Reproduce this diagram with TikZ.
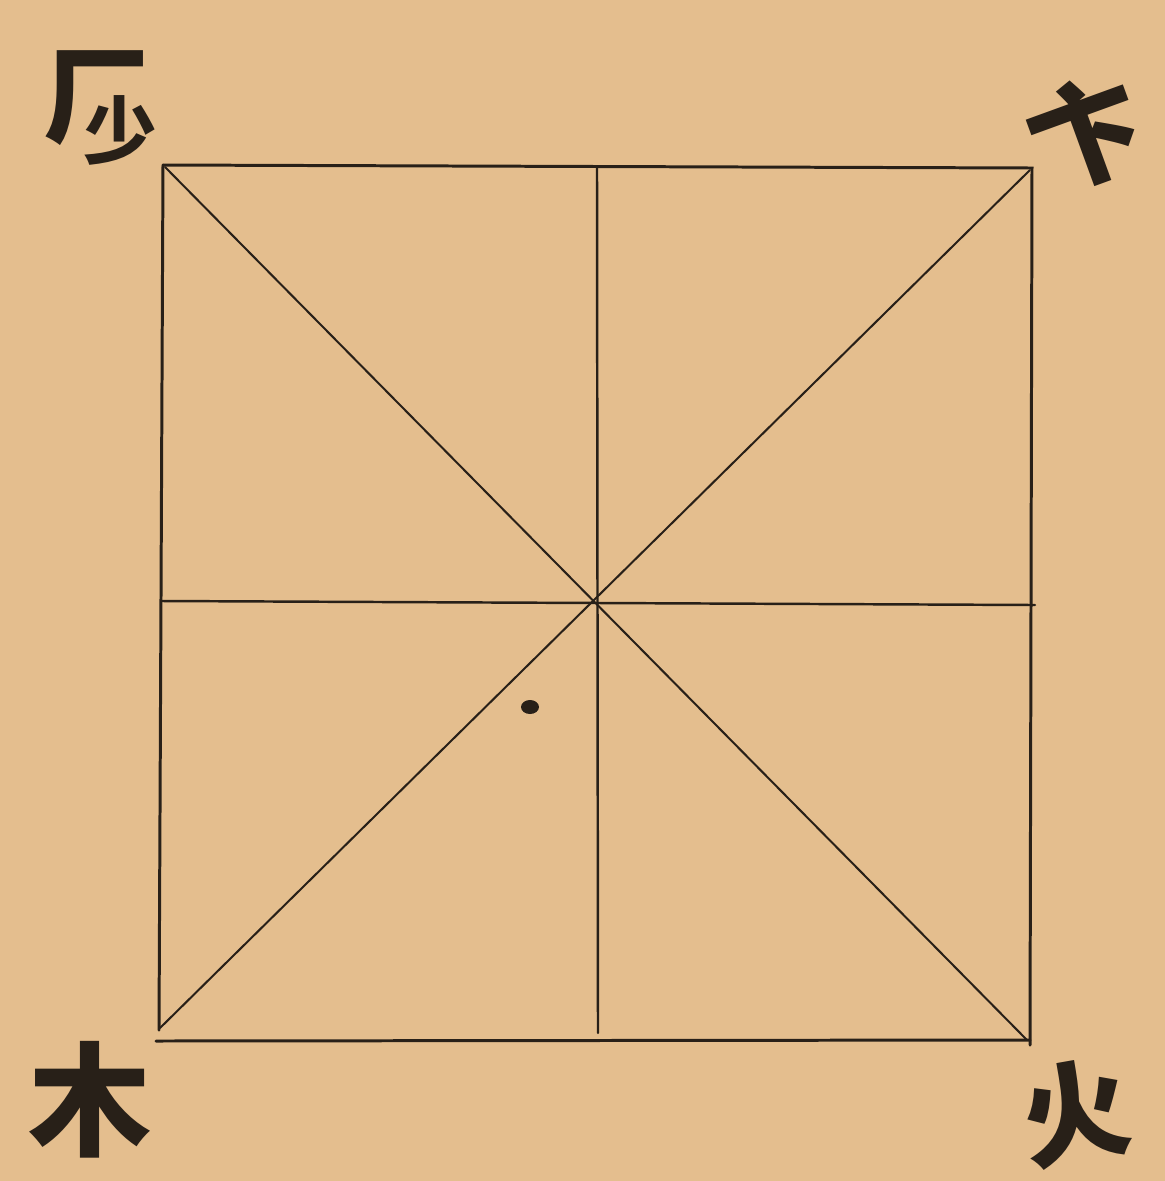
\documentclass[tikz,border=0pt]{standalone}
\usepackage{fontspec}
\newfontfamily\cjk{Noto Sans CJK SC}
\definecolor{paper}{RGB}{228,190,142}
\definecolor{ink}{RGB}{40,32,24}
\begin{document}
\begin{tikzpicture}[x=0.02cm,y=-0.02cm,
  frame/.style={draw=ink,line width=1.7pt,line cap=round},
  midline/.style={draw=ink,line width=1.4pt,line cap=round},
  thinline/.style={draw=ink,line width=1.15pt,line cap=round},
  glyph/.style={text=ink,inner sep=0pt,font=\cjk\bfseries}]
\fill[paper] (0,0) rectangle (1165,1181);
\useasboundingbox (0,0) rectangle (1165,1181);
% square corners and line ends
\coordinate (tl) at (163,165);
\coordinate (tr) at (1032,168);
\coordinate (br) at (1030,1045);
\coordinate (bl) at (159,1030);
\coordinate (bs) at (156,1041);
\coordinate (be) at (1030,1040);
\coordinate (ml) at (162,601);
\coordinate (mr) at (1035,605);
\coordinate (mt) at (597,168);
\coordinate (mb) at (598,1033);
\coordinate (d1a) at (165,167);
\coordinate (d1b) at (1027,1040);
\coordinate (d2a) at (1030,170);
\coordinate (d2b) at (160,1028);
% outer square
\draw[frame] (tl) -- (tr) -- (br);
\draw[frame] (tl) -- (bl);
\draw[frame] (bs) -- (be);
% cross
\draw[midline] (ml) -- (mr);
\draw[midline] (mt) -- (mb);
% diagonals
\draw[thinline] (d1a) -- (d1b);
\draw[thinline] (d2a) -- (d2b);
% ink dot
\fill[ink] (530,707) ellipse [x radius=9, y radius=7];
% corner glyphs
\node[glyph,font=\cjk\bfseries\fontsize{60}{60}\selectfont] (g1) at (100,108)
  {厂\kern-0.62em\raisebox{-0.22em}{\fontsize{42}{42}\selectfont 少}};
\node[glyph,font=\cjk\bfseries\fontsize{64}{64}\selectfont,rotate=20] (g2) at (1086,133) {卞};
\node[glyph,font=\cjk\bfseries\fontsize{70}{70}\selectfont] (g3) at (90,1100) {木};
\node[glyph,font=\cjk\bfseries\fontsize{62}{62}\selectfont,rotate=10] (g4) at (1075,1113) {火};
\end{tikzpicture}
\end{document}
